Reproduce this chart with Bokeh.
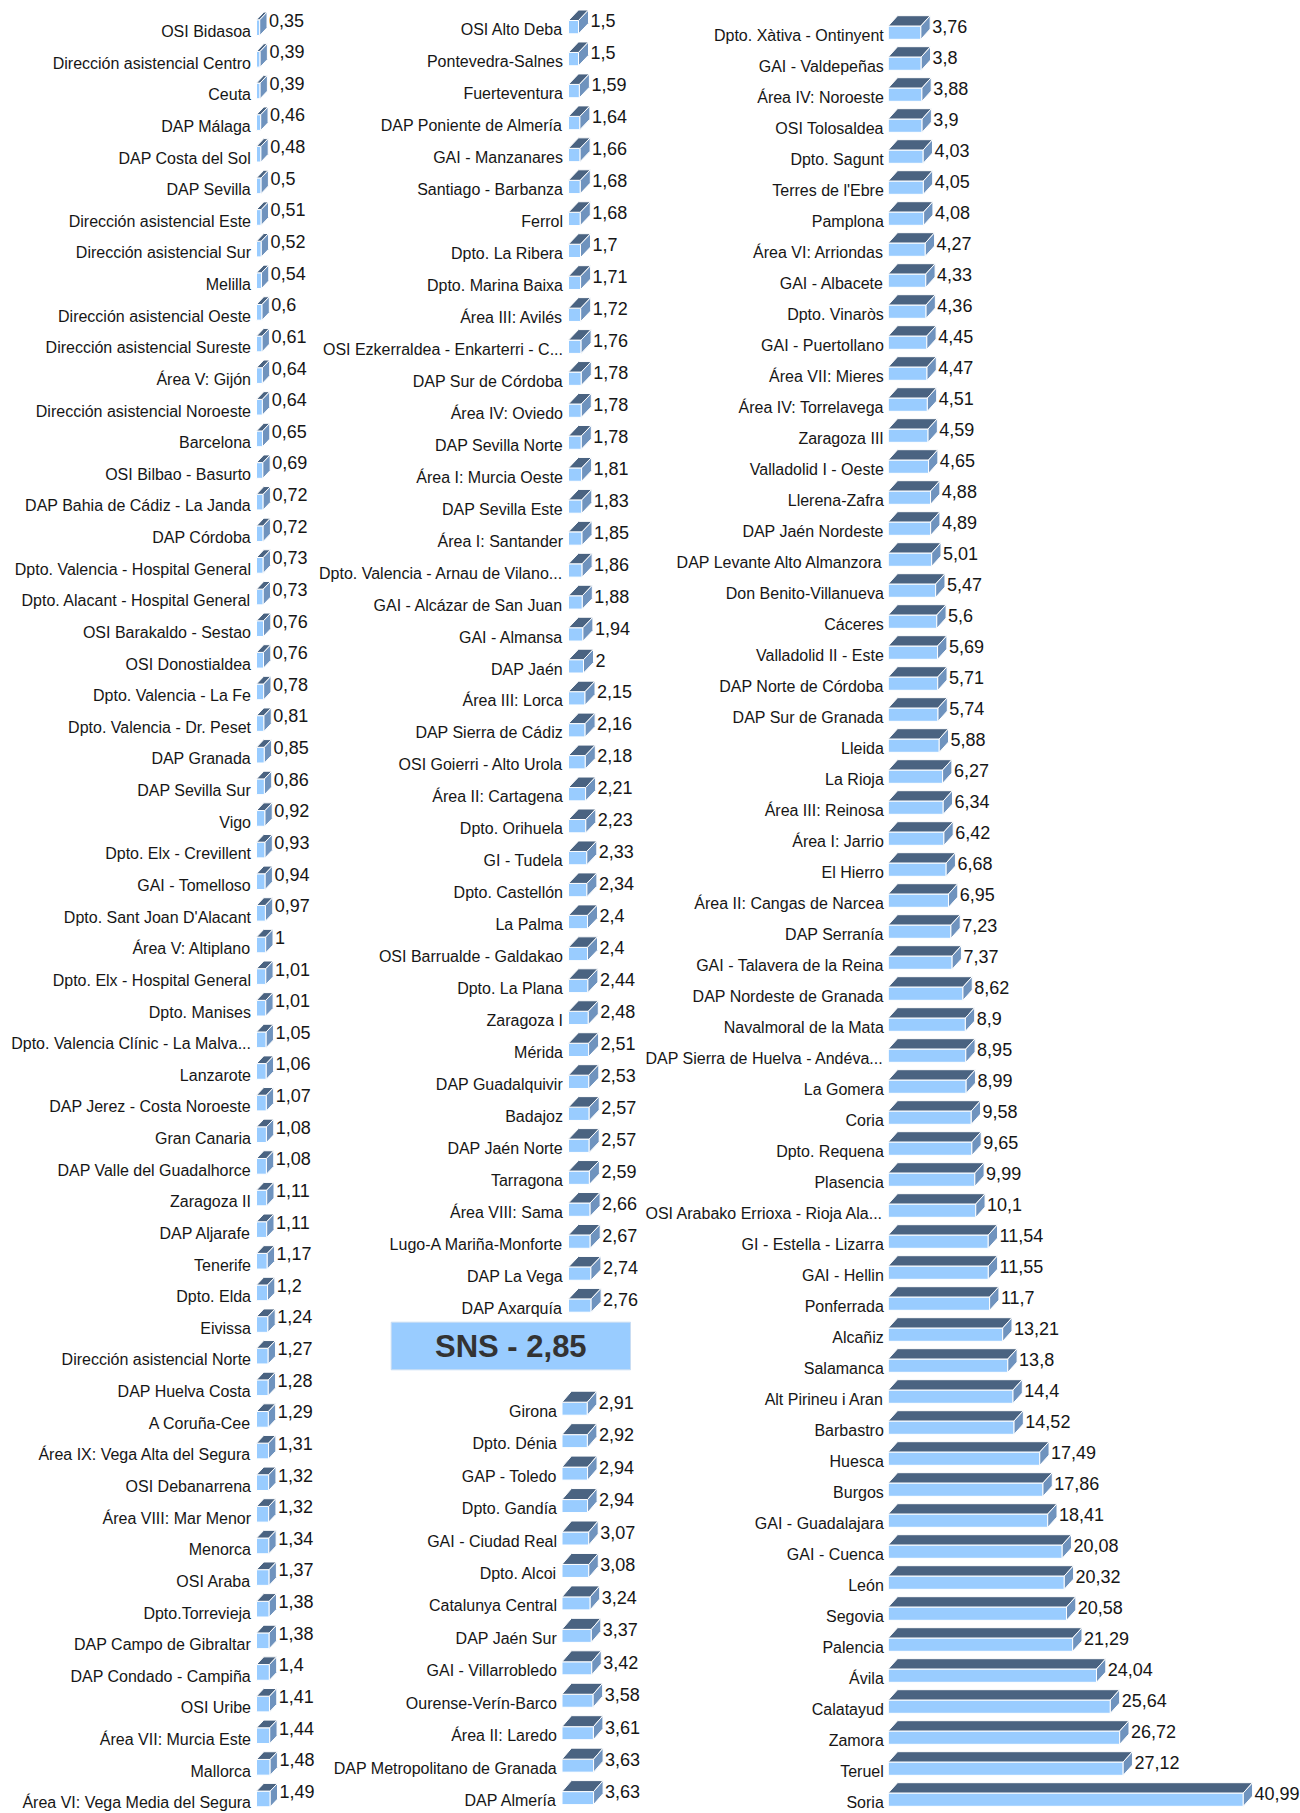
from bokeh.plotting import figure
from bokeh.models import Range1d
from bokeh.core.properties import value
from bokeh.embed import file_html
from bokeh.resources import INLINE

# ---------------- data ----------------
col1_labels = [
    "OSI Bidasoa", "Dirección asistencial Centro", "Ceuta", "DAP Málaga", "DAP Costa del Sol",
    "DAP Sevilla", "Dirección asistencial Este", "Dirección asistencial Sur", "Melilla",
    "Dirección asistencial Oeste", "Dirección asistencial Sureste", "Área V: Gijón",
    "Dirección asistencial Noroeste", "Barcelona", "OSI Bilbao - Basurto",
    "DAP Bahia de Cádiz - La Janda", "DAP Córdoba", "Dpto. Valencia - Hospital General",
    "Dpto. Alacant - Hospital General", "OSI Barakaldo - Sestao", "OSI Donostialdea",
    "Dpto. Valencia - La Fe", "Dpto. Valencia - Dr. Peset", "DAP Granada", "DAP Sevilla Sur",
    "Vigo", "Dpto. Elx - Crevillent", "GAI - Tomelloso", "Dpto. Sant Joan D'Alacant",
    "Área V: Altiplano", "Dpto. Elx - Hospital General", "Dpto. Manises",
    "Dpto. Valencia Clínic - La Malva...", "Lanzarote", "DAP Jerez - Costa Noroeste",
    "Gran Canaria", "DAP Valle del Guadalhorce", "Zaragoza II", "DAP Aljarafe", "Tenerife",
    "Dpto. Elda", "Eivissa", "Dirección asistencial Norte", "DAP Huelva Costa", "A Coruña-Cee",
    "Área IX: Vega Alta del Segura", "OSI Debanarrena", "Área VIII: Mar Menor", "Menorca",
    "OSI Araba", "Dpto.Torrevieja", "DAP Campo de Gibraltar", "DAP Condado - Campiña",
    "OSI Uribe", "Área VII: Murcia Este", "Mallorca", "Área VI: Vega Media del Segura",
]
col1_values = [
    0.35, 0.39, 0.39, 0.46, 0.48, 0.5, 0.51, 0.52, 0.54, 0.6, 0.61, 0.64, 0.64, 0.65, 0.69,
    0.72, 0.72, 0.73, 0.73, 0.76, 0.76, 0.78, 0.81, 0.85, 0.86, 0.92, 0.93, 0.94, 0.97, 1.0,
    1.01, 1.01, 1.05, 1.06, 1.07, 1.08, 1.08, 1.11, 1.11, 1.17, 1.2, 1.24, 1.27, 1.28, 1.29,
    1.31, 1.32, 1.32, 1.34, 1.37, 1.38, 1.38, 1.4, 1.41, 1.44, 1.48, 1.49,
]

col2a_labels = [
    "OSI Alto Deba", "Pontevedra-Salnes", "Fuerteventura", "DAP Poniente de Almería",
    "GAI - Manzanares", "Santiago - Barbanza", "Ferrol", "Dpto. La Ribera", "Dpto. Marina Baixa",
    "Área III: Avilés", "OSI Ezkerraldea - Enkarterri - C...", "DAP Sur de Córdoba",
    "Área IV: Oviedo", "DAP Sevilla Norte", "Área I: Murcia Oeste", "DAP Sevilla Este",
    "Área I: Santander", "Dpto. Valencia - Arnau de Vilano...", "GAI - Alcázar de San Juan",
    "GAI - Almansa", "DAP Jaén", "Área III: Lorca", "DAP Sierra de Cádiz",
    "OSI Goierri - Alto Urola", "Área II: Cartagena", "Dpto. Orihuela", "GI - Tudela",
    "Dpto. Castellón", "La Palma", "OSI Barrualde - Galdakao", "Dpto. La Plana", "Zaragoza I",
    "Mérida", "DAP Guadalquivir", "Badajoz", "DAP Jaén Norte", "Tarragona", "Área VIII: Sama",
    "Lugo-A Mariña-Monforte", "DAP La Vega", "DAP Axarquía",
]
col2a_values = [
    1.5, 1.5, 1.59, 1.64, 1.66, 1.68, 1.68, 1.7, 1.71, 1.72, 1.76, 1.78, 1.78, 1.78, 1.81,
    1.83, 1.85, 1.86, 1.88, 1.94, 2.0, 2.15, 2.16, 2.18, 2.21, 2.23, 2.33, 2.34, 2.4, 2.4,
    2.44, 2.48, 2.51, 2.53, 2.57, 2.57, 2.59, 2.66, 2.67, 2.74, 2.76,
]

sns_label = "SNS"
sns_value = 2.85

col2b_labels = [
    "Girona", "Dpto. Dénia", "GAP - Toledo", "Dpto. Gandía", "GAI - Ciudad Real", "Dpto. Alcoi",
    "Catalunya Central", "DAP Jaén Sur", "GAI - Villarrobledo", "Ourense-Verín-Barco",
    "Área II: Laredo", "DAP Metropolitano de Granada", "DAP Almería",
]
col2b_values = [2.91, 2.92, 2.94, 2.94, 3.07, 3.08, 3.24, 3.37, 3.42, 3.58, 3.61, 3.63, 3.63]

col3_labels = [
    "Dpto. Xàtiva - Ontinyent", "GAI - Valdepeñas", "Área IV: Noroeste", "OSI Tolosaldea",
    "Dpto. Sagunt", "Terres de l'Ebre", "Pamplona", "Área VI: Arriondas", "GAI - Albacete",
    "Dpto. Vinaròs", "GAI - Puertollano", "Área VII: Mieres", "Área IV: Torrelavega",
    "Zaragoza III", "Valladolid I - Oeste", "Llerena-Zafra", "DAP Jaén Nordeste",
    "DAP Levante Alto Almanzora", "Don Benito-Villanueva", "Cáceres", "Valladolid II - Este",
    "DAP Norte de Córdoba", "DAP Sur de Granada", "Lleida", "La Rioja", "Área III: Reinosa",
    "Área I: Jarrio", "El Hierro", "Área II: Cangas de Narcea", "DAP Serranía",
    "GAI - Talavera de la Reina", "DAP Nordeste de Granada", "Navalmoral de la Mata",
    "DAP Sierra de Huelva - Andéva...", "La Gomera", "Coria", "Dpto. Requena", "Plasencia",
    "OSI Arabako Errioxa - Rioja Ala...", "GI - Estella - Lizarra", "GAI - Hellin", "Ponferrada",
    "Alcañiz", "Salamanca", "Alt Pirineu i Aran", "Barbastro", "Huesca", "Burgos",
    "GAI - Guadalajara", "GAI - Cuenca", "León", "Segovia", "Palencia", "Ávila", "Calatayud",
    "Zamora", "Teruel", "Soria",
]
col3_values = [
    3.76, 3.8, 3.88, 3.9, 4.03, 4.05, 4.08, 4.27, 4.33, 4.36, 4.45, 4.47, 4.51, 4.59, 4.65,
    4.88, 4.89, 5.01, 5.47, 5.6, 5.69, 5.71, 5.74, 5.88, 6.27, 6.34, 6.42, 6.68, 6.95, 7.23,
    7.37, 8.62, 8.9, 8.95, 8.99, 9.58, 9.65, 9.99, 10.1, 11.54, 11.55, 11.7, 13.21, 13.8,
    14.4, 14.52, 17.49, 17.86, 18.41, 20.08, 20.32, 20.58, 21.29, 24.04, 25.64, 26.72, 27.12,
    40.99,
]

# ---------------- layout / style ----------------
W, H = 1300, 1812
M = 0  # page offset of the canvas
FRONT = "#99CCFF"
TOP = "#4A6381"
SIDE = "#6F93BE"
TXT = "#161616"
FONT = "Liberation Sans"


def fmt(v):
    s = f"{v:.2f}".rstrip("0").rstrip(".")
    return s.replace(".", ",")


charts = [
    dict(name="c1", labels=col1_labels, values=col1_values, base=256.0, ppu=9.2, amin=0.0,
         top0=19.3, step=31.63, fh=15.7, dx=7.3, dy=7.7, gap=5.5),
    dict(name="c2a", labels=col2a_labels, values=col2a_values, base=568.0, ppu=10.0, amin=0.5,
         top0=20.0, step=31.96, fh=13.3, dx=10.0, dy=10.5, gap=5.5),
    dict(name="c2b", labels=col2b_labels, values=col2b_values, base=561.5, ppu=8.7, amin=0.0,
         top0=1401.7, step=32.45, fh=13.0, dx=9.5, dy=11.0, gap=5.0),
    dict(name="c3", labels=col3_labels, values=col3_values, base=887.8, ppu=8.66, amin=0.0,
         top0=25.5, step=31.0, fh=13.3, dx=9.3, dy=10.3, gap=4.5),
]

p = figure(width=W, height=H, output_backend="svg", toolbar_location=None,
           x_range=Range1d(M, M + W), y_range=Range1d(M + H, M),
           x_axis_location=None, y_axis_location=None, min_border=0)
p.grid.visible = False
p.outline_line_color = None
p.background_fill_color = "white"
p.border_fill_color = "white"

for c in charts:
    name, b, m, s = c["name"], c["ppu"], c["amin"], c["step"]
    p.extra_x_ranges[name] = Range1d(start=m - (c["base"] - M) / b,
                                     end=m + (M + W - c["base"]) / b)
    p.extra_y_ranges[name] = Range1d(start=(M + H - c["top0"]) / s,
                                     end=(M - c["top0"]) / s)
    vals = c["values"]
    n = len(vals)
    idx = list(range(n))
    ddx = c["dx"] / b
    ddy = c["dy"] / s
    fh = c["fh"] / s
    kw = dict(x_range_name=name, y_range_name=name)

    p.quad(left=[m] * n, right=vals, top=idx, bottom=[i + fh for i in idx],
           fill_color=FRONT, line_color="white", line_width=1, **kw)
    p.patches(xs=[[m, v, v + ddx, m + ddx] for v in vals],
              ys=[[i, i, i - ddy, i - ddy] for i in idx],
              fill_color=TOP, line_color="white", line_width=1, **kw)
    p.patches(xs=[[v, v + ddx, v + ddx, v] for v in vals],
              ys=[[i, i - ddy, i - ddy + fh, i + fh] for i in idx],
              fill_color=SIDE, line_color="white", line_width=1, **kw)

    p.text(x=[m] * n, y=[i + fh for i in idx], text=c["labels"],
           x_offset=-c["gap"], y_offset=-4.0, text_align="right", text_baseline="middle",
           text_font=value(FONT), text_font_size="16px", text_color=TXT, **kw)
    p.text(x=[v + ddx for v in vals], y=idx, text=[fmt(v) for v in vals],
           x_offset=2.0, y_offset=0.3, text_align="left", text_baseline="middle",
           text_font=value(FONT), text_font_size="18px", text_color=TXT, **kw)

# SNS average box (page-pixel layout)
p.quad(left=[390.7], right=[630.0], top=[1321.7], bottom=[1369.3],
       fill_color=FRONT, line_color="#C9DDF3", line_width=1)
p.text(x=[510.3], y=[1345.5], text=[f"{sns_label} - {fmt(sns_value)}"],
       text_align="center", text_baseline="middle", text_font=value(FONT),
       text_font_size="31px", text_font_style="bold", text_color="#333333")

open("out.html", "w").write(file_html(p, INLINE))
